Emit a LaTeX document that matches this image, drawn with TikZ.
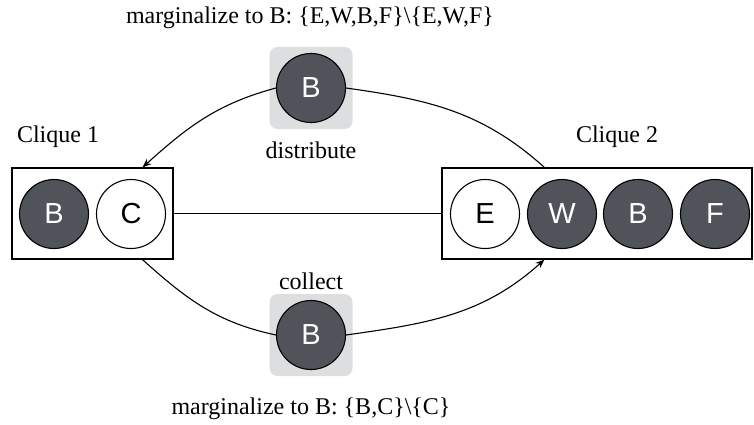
\documentclass[tikz,border=0pt]{standalone}
\usepackage{fontspec}
\setmainfont{Liberation Serif}
\newfontfamily\varfont{Liberation Sans}
\usetikzlibrary{arrows.meta,calc}
\definecolor{vardark}{HTML}{50535A}
\definecolor{msgbg}{HTML}{DDDEE0}
\tikzset{
  x=1pt, y=1pt,
  lbl/.style={font=\fontsize{24}{27}\selectfont, inner sep=0pt},
  var/.style={circle, draw=black, line width=1.1pt, minimum size=69pt, inner sep=0pt,
              font=\varfont\fontsize{29}{32}\selectfont},
  obs/.style={var, fill=vardark, text=white},
  hid/.style={var, fill=white, text=black},
  cliquebox/.style={draw=black, line width=1.1pt, fill=white, inner sep=0pt},
  msgbox/.style={fill=msgbg, rounded corners=8pt, minimum width=83pt, minimum height=82pt, inner sep=0pt},
  link/.style={line width=1.1pt},
  msg/.style={line width=1.1pt, -{Stealth[length=9pt,width=7pt]}}
}
\begin{document}
\begin{tikzpicture}
\useasboundingbox (0,0) rectangle (754,424);

% clique boxes
\node[cliquebox, minimum width=161pt, minimum height=91pt] (k1) at (92.5,210.5) {};
\node[cliquebox, minimum width=310pt, minimum height=91pt] (k2) at (597,210.5) {};

% clique 1 variables
\node[obs] (b1) at (54,210) {B};
\node[hid] (c1) at (131,210) {C};

% clique 2 variables
\node[hid] (e2) at (485,210) {E};
\node[obs] (w2) at (562,210) {W};
\node[obs] (b2) at (638,210) {B};
\node[obs] (f2) at (715,210) {F};

% separator link
\draw[link] (k1.east) -- (k2.west);

% labels
\node[lbl] (l1) at (58,287) {Clique 1};
\node[lbl] (l2) at (617,287) {Clique 2};

% message boxes
\node[msgbox] (sq1) at (311,336) {};
\node[msgbox] (sq2) at (311,89) {};

% attachment points on the clique boxes
\coordinate (k2top) at ($(k2.north west)+(103,0)$);
\coordinate (k1top) at ($(k1.north west)+(131,0)$);
\coordinate (k1bot) at ($(k1.south west)+(131,0)$);
\coordinate (k2bot) at ($(k2.south west)+(103,0)$);

% message variables
\node[obs] (m1) at (311,336) {B};
\node[obs] (m2) at (311,89) {B};

% distribute pass: clique 2 -> clique 1
\draw[link] (k2top) to[out=138, in=-8] (m1.east);
\draw[msg] (m1.west) to[out=195, in=42] (k1top);

% collect pass: clique 1 -> clique 2
\draw[link] (k1bot) to[out=-42, in=168] (m2.west);
\draw[msg] (m2.east) to[out=8, in=222] (k2bot);

\node[lbl] (dist) at (311,274) {distribute};
\node[lbl] (coll) at (311,143) {collect};

\node[lbl] (t1) at (310,406) {marginalize to B: \{E,W,B,F\}\textbackslash\{E,W,F\}};
\node[lbl] (t2) at (311,15) {marginalize to B: \{B,C\}\textbackslash\{C\}};
\end{tikzpicture}
\end{document}
